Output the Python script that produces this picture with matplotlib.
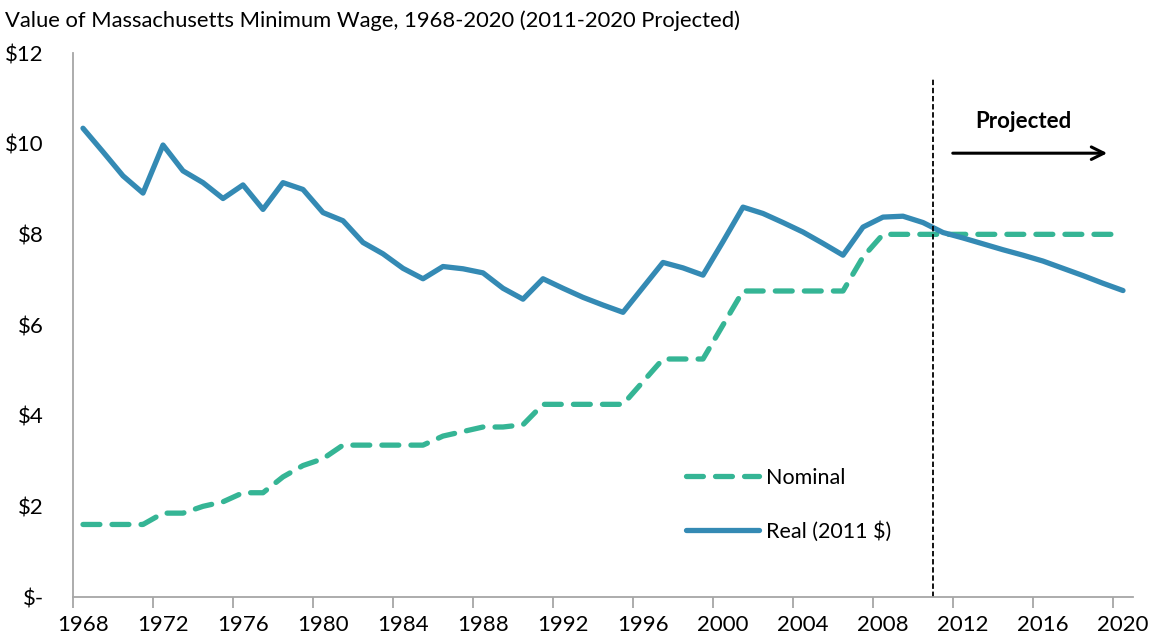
import matplotlib
matplotlib.use("Agg")
import matplotlib.pyplot as plt
from matplotlib.ticker import FixedLocator, NullFormatter

years = list(range(1968, 2021))

nominal = [1.60, 1.60, 1.60, 1.60, 1.85, 1.85, 2.00, 2.10, 2.30, 2.30,
           2.65, 2.90, 3.05, 3.35, 3.35, 3.35, 3.35, 3.35, 3.55, 3.65,
           3.75, 3.75, 3.80, 4.25, 4.25, 4.25, 4.25, 4.25, 4.75, 5.25,
           5.25, 5.25, 6.00, 6.75, 6.75, 6.75, 6.75, 6.75, 6.75, 7.50,
           8.00, 8.00, 8.00, 8.00, 8.00, 8.00, 8.00, 8.00, 8.00, 8.00,
           8.00, 8.00, 8.00]

real = [10.34, 9.82, 9.29, 8.91, 9.97, 9.40, 9.14, 8.79, 9.09, 8.55,
        9.14, 8.99, 8.48, 8.30, 7.82, 7.57, 7.25, 7.02, 7.29, 7.24,
        7.15, 6.81, 6.57, 7.02, 6.81, 6.61, 6.44, 6.28, 6.83, 7.38,
        7.26, 7.10, 7.84, 8.60, 8.46, 8.26, 8.05, 7.80, 7.54, 8.16,
        8.38, 8.40, 8.26, 8.04, 7.92, 7.79, 7.66, 7.54, 7.41, 7.25,
        7.09, 6.92, 6.76]

tick_years = list(range(1968, 2021, 4))
ytick_vals = [0, 2, 4, 6, 8, 10, 12]
ytick_labels = ["$-", "$2", "$4", "$6", "$8", "$10", "$12"]

title = "Value of Massachusetts Minimum Wage, 1968-2020 (2011-2020 Projected)"
series_labels = ["Nominal", "Real (2011 $)"]
projection_start = 2010.5

FONT = "Lato"
plt.rcParams["font.family"] = [FONT, "DejaVu Sans"]

BLUE = "#348AB4"
GREEN = "#35B595"
GRAY = "#A6A6A6"

fig = plt.figure(figsize=(11.54, 6.41), dpi=100)
ax = fig.add_axes([73/1154, 1-597/641, (1133-73)/1154, (597-53)/641])

ax.plot(years, nominal, color=GREEN, lw=3.8, dashes=(3.2, 2.3),
        dash_capstyle="round", solid_joinstyle="round", label=series_labels[0])
ax.plot(years, real, color=BLUE, lw=3.8, solid_capstyle="round",
        solid_joinstyle="round", label=series_labels[1])

ax.set_xlim(1967.5, 2020.5)
ax.set_ylim(0, 12)

ax.axvline(projection_start, ymin=0, ymax=11.45/12, color="black", lw=1.3,
           dashes=(3, 1.5))
ax.annotate("", xy=(2019.35, 9.79), xytext=(2011.35, 9.79),
            arrowprops=dict(arrowstyle="->,head_length=0.9,head_width=0.45",
                            color="black", lw=2.2))
ax.text(2015.0, 10.5, "Projected", ha="center", va="center",
        fontsize=16, fontweight="bold")

ax.set_xticks(tick_years)
ax.set_xticklabels([str(y) for y in tick_years], fontsize=16)
ax.tick_params(axis="x", which="major", length=0, pad=13)
ax.xaxis.set_minor_locator(FixedLocator([y - 0.5 for y in tick_years]))
ax.xaxis.set_minor_formatter(NullFormatter())
ax.tick_params(axis="x", which="minor", length=8, width=1.3, color=GRAY)

ax.set_yticks(ytick_vals)
ax.set_yticklabels(ytick_labels, fontsize=16)
ax.tick_params(axis="y", length=0, pad=21)
for lbl in ax.get_yticklabels():
    lbl.set_horizontalalignment("right")

for s in ["top", "right"]:
    ax.spines[s].set_visible(False)
for s in ["left", "bottom"]:
    ax.spines[s].set_color(GRAY)
    ax.spines[s].set_linewidth(1.3)

leg = ax.legend(loc="upper left", bbox_to_anchor=(0.578, 0.238),
                frameon=False, fontsize=15.5, handlelength=3.4,
                handletextpad=0.35, labelspacing=1.55, borderpad=0,
                borderaxespad=0)

fig.text(5/1154, 1-21/641, title, fontsize=15.8, ha="left", va="center")

fig.savefig("out.png", dpi=100)
